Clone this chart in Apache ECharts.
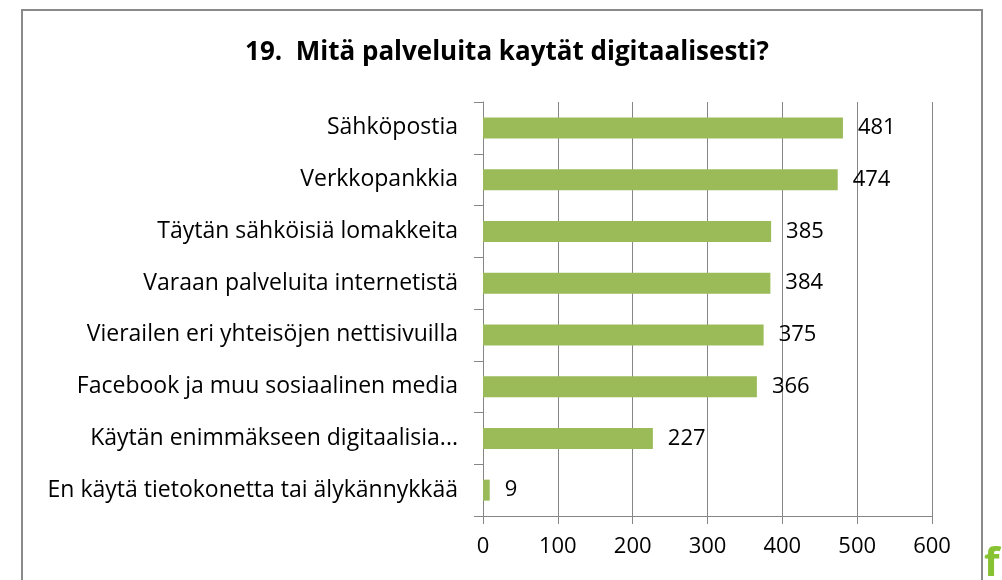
<!DOCTYPE html>
<html lang="fi">
<head>
    <meta charset="UTF-8">
    <title>19. Mitä palveluita kaytät digitaalisesti?</title>
    <script src="https://cdn.jsdelivr.net/npm/echarts@6/dist/echarts.min.js"></script>
    <style>
        html, body { margin: 0; padding: 0; background: #fff; }
    </style>
</head>
<body>

<div id="main" style="width: 1002px;height:580px;"></div>
<script type="text/javascript">
    var categories = [
        'Sähköpostia',
        'Verkkopankkia',
        'Täytän sähköisiä lomakkeita',
        'Varaan palveluita internetistä',
        'Vierailen eri yhteisöjen nettisivuilla',
        'Facebook ja muu sosiaalinen media',
        'Käytän enimmäkseen digitaalisia...',
        'En käytä tietokonetta tai älykännykkää'
    ];
    var values = [481, 474, 385, 384, 375, 366, 227, 9];

    var fontName = '"Open Sans"';
    var gray = '#868686';

    var chart = echarts.init(document.getElementById('main'));

    var option = {
        animation: false,
        title: {
            text: '19.  Mitä palveluita kaytät digitaalisesti?',
            left: 502,
            textAlign: 'center',
            top: 35,
            textStyle: {
                fontFamily: fontName,
                fontSize: 26,
                fontWeight: 'bold',
                color: '#000'
            }
        },
        grid: {
            left: 483,
            right: 70,
            top: 102,
            bottom: 64,
            containLabel: false
        },
        xAxis: {
            type: 'value',
            min: 0,
            max: 600,
            interval: 100,
            axisLine: { show: true, lineStyle: { color: gray, width: 1 } },
            axisTick: { show: true, length: 8, lineStyle: { color: gray } },
            splitLine: { show: true, lineStyle: { color: gray, width: 1 } },
            axisLabel: {
                margin: 20,
                fontFamily: fontName,
                fontSize: 22,
                color: '#000'
            }
        },
        yAxis: {
            type: 'category',
            data: categories,
            inverse: true,
            axisLine: { show: true, lineStyle: { color: gray, width: 1 } },
            axisTick: { show: true, length: 9, lineStyle: { color: gray } },
            axisLabel: {
                margin: 25,
                fontFamily: fontName,
                fontSize: 23,
                color: '#000'
            }
        },
        series: [{
            type: 'bar',
            data: values,
            barWidth: 21,
            itemStyle: { color: '#9BBB59' },
            label: {
                show: true,
                position: 'right',
                distance: 15,
                fontFamily: fontName,
                fontSize: 22,
                color: '#000'
            }
        }],
        graphic: [{
            type: 'rect',
            shape: { x: 22, y: 10, width: 960, height: 600 },
            style: { fill: 'none', stroke: '#8a8a8a', lineWidth: 2 },
            silent: true
        }, {
            type: 'text',
            left: 984,
            top: 545,
            style: {
                text: 'f',
                font: 'bold 40px "Open Sans"',
                fill: '#86C232'
            },
            silent: true
        }]
    };

    chart.setOption(option);
</script>
</body>
</html>
